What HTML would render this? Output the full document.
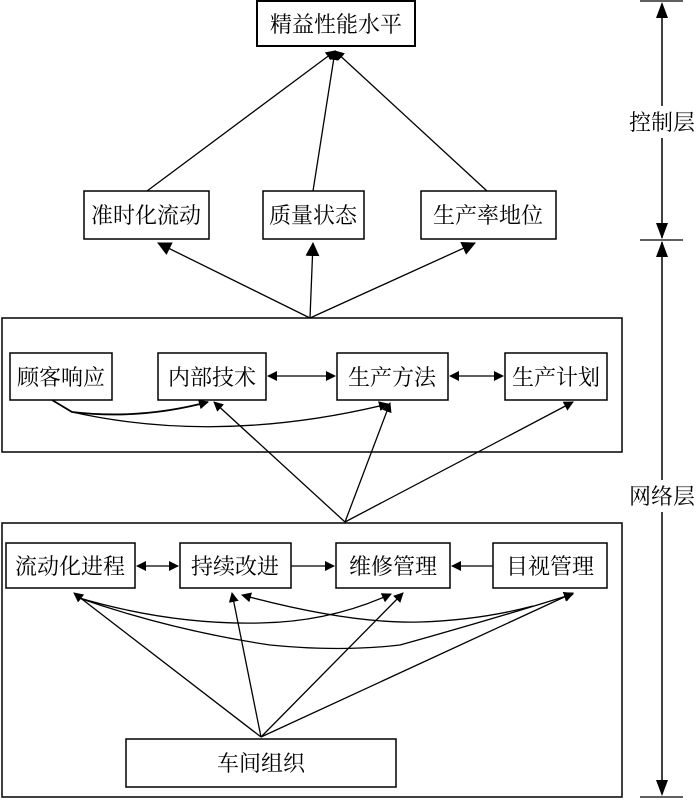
<!DOCTYPE html>
<html><head><meta charset="utf-8"><style>
html,body{margin:0;padding:0;background:#fff;}
svg text{font-family:"Liberation Serif","Noto Serif CJK SC","Noto Sans CJK SC",serif;font-size:22px;fill:#000;}
</style></head><body>
<svg width="700" height="798" viewBox="0 0 700 798" xmlns="http://www.w3.org/2000/svg">
<defs>
<marker id="a" markerWidth="10" markerHeight="10" refX="9" refY="5" orient="auto" markerUnits="userSpaceOnUse"><path d="M0,0 L10,5 L0,10 z" fill="#000"/></marker>
<marker id="s" markerWidth="10" markerHeight="10" refX="1" refY="5" orient="auto" markerUnits="userSpaceOnUse"><path d="M10,0 L0,5 L10,10 z" fill="#000"/></marker>
<marker id="b" markerWidth="14" markerHeight="14" refX="13" refY="7" orient="auto" markerUnits="userSpaceOnUse"><path d="M0,0 L14,7 L0,14 z" fill="#000"/></marker>
</defs>
<g fill="none" stroke="#000" stroke-width="1.5">
<rect x="257" y="1" width="158" height="45" stroke-width="2"/>
<rect x="84" y="191" width="125" height="48"/>
<rect x="263" y="191" width="101" height="48"/>
<rect x="421" y="191" width="135" height="48"/>
<rect x="2" y="318" width="620" height="134"/>
<rect x="10" y="353" width="102" height="47"/>
<rect x="158" y="353" width="108" height="47"/>
<rect x="337" y="353" width="111" height="47"/>
<rect x="505" y="353" width="102" height="47"/>
<rect x="2" y="523" width="620" height="274"/>
<rect x="6" y="543" width="129" height="45"/>
<rect x="180" y="543" width="111" height="45"/>
<rect x="336" y="543" width="114" height="45"/>
<rect x="493" y="543" width="114" height="45"/>
<rect x="126" y="739" width="270" height="48"/>
</g>
<g fill="none" stroke="#000" stroke-width="1.3">
<line x1="147" y1="191" x2="335" y2="51" marker-end="url(#a)"/>
<line x1="313" y1="191" x2="335" y2="51" marker-end="url(#a)"/>
<line x1="487" y1="191" x2="335" y2="51" marker-end="url(#a)"/>
<line x1="310" y1="318" x2="158" y2="243" marker-end="url(#b)"/>
<line x1="310" y1="318" x2="313" y2="243" marker-end="url(#b)"/>
<line x1="310" y1="318" x2="475" y2="243" marker-end="url(#b)"/>
<line x1="268" y1="376" x2="335" y2="376" marker-start="url(#s)" marker-end="url(#a)"/>
<line x1="450" y1="376" x2="503" y2="376" marker-start="url(#s)" marker-end="url(#a)"/>
<path d="M52,400 L72,412 Q140,420 208,402" marker-end="url(#a)" stroke-width="1.8"/>
<path d="M72,412 Q220,445 388,404" marker-end="url(#a)"/>
<line x1="345" y1="522" x2="214" y2="402" marker-end="url(#a)"/>
<line x1="345" y1="522" x2="390" y2="403" marker-end="url(#a)"/>
<line x1="345" y1="522" x2="573" y2="402" marker-end="url(#a)"/>
<line x1="137" y1="566" x2="178" y2="566" marker-start="url(#s)" marker-end="url(#a)"/>
<line x1="291" y1="566" x2="334" y2="566" marker-end="url(#a)"/>
<line x1="493" y1="566" x2="452" y2="566" marker-end="url(#a)"/>
<line x1="261" y1="737" x2="74" y2="593" marker-end="url(#a)"/>
<line x1="261" y1="737" x2="232" y2="593" marker-end="url(#a)"/>
<line x1="261" y1="737" x2="403" y2="593" marker-end="url(#a)"/>
<line x1="261" y1="737" x2="573" y2="593" marker-end="url(#a)"/>
<path d="M76,597 Q170,625 260,623 Q330,622 391,594" marker-end="url(#a)"/>
<path d="M76,597 Q170,630 270,645 Q340,652 400,645 Q490,620 573,594" marker-end="url(#a)"/>
<path d="M533,606 Q480,620 420,622 Q350,624 242,595" marker-end="url(#a)"/>
<line x1="662" y1="4" x2="662" y2="238" stroke-width="1.5"/>
<line x1="662" y1="242" x2="662" y2="794" stroke-width="1.5"/>
<line x1="640" y1="1" x2="683" y2="1"/>
<line x1="640" y1="240" x2="683" y2="240"/>
<line x1="640" y1="797" x2="683" y2="797"/>
</g>
<g fill="#000">
<path d="M662,2 L656,18 L668,18 z"/>
<path d="M662,239 L656,223 L668,223 z"/>
<path d="M662,241 L656,257 L668,257 z"/>
<path d="M662,796 L656,780 L668,780 z"/>
</g>
<rect x="627" y="106" width="70" height="32" fill="#fff"/>
<rect x="627" y="480" width="70" height="32" fill="#fff"/>
<g text-anchor="middle">
<text x="336" y="32">精益性能水平</text>
<text x="146" y="223">准时化流动</text>
<text x="313" y="223">质量状态</text>
<text x="488" y="223">生产率地位</text>
<text x="61" y="385">顾客响应</text>
<text x="212" y="385">内部技术</text>
<text x="392" y="385">生产方法</text>
<text x="556" y="385">生产计划</text>
<text x="70" y="574">流动化进程</text>
<text x="235" y="574">持续改进</text>
<text x="393" y="574">维修管理</text>
<text x="550" y="574">目视管理</text>
<text x="261" y="771">车间组织</text>
<text x="662" y="130">控制层</text>
<text x="662" y="504">网络层</text>
</g>
</svg>
</body></html>
